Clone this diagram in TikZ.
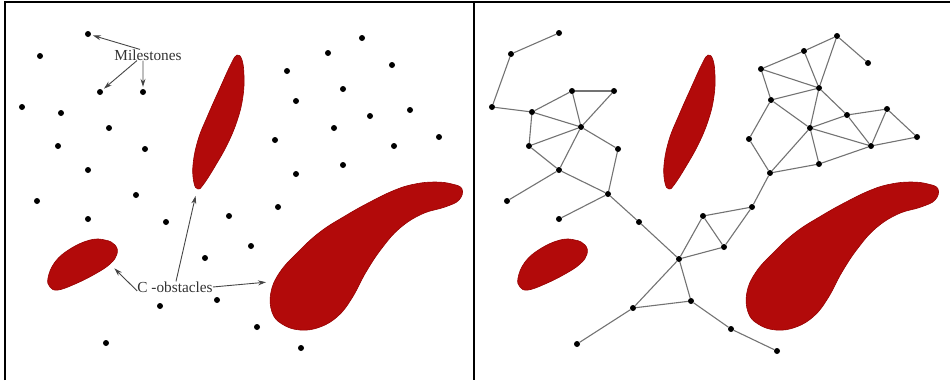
\documentclass[tikz,border=0pt]{standalone}
\usepackage{fontspec}
\setmainfont{Liberation Serif}
\usetikzlibrary{arrows.meta,calc}
\definecolor{obst}{RGB}{178,10,10}
\definecolor{obstedge}{RGB}{150,0,0}
\definecolor{edgegray}{RGB}{115,115,115}
\definecolor{annotgray}{RGB}{70,70,70}
\definecolor{txtgray}{RGB}{50,50,50}
\tikzset{
  mile/.style={circle,fill=black,draw=none,inner sep=0pt,minimum size=6bp},
  rmedge/.style={draw=edgegray,line width=1.1bp},
  obstacle/.style={fill=obst,draw=obstedge,line width=0.6bp},
  annot/.style={draw=annotgray,line width=0.9bp,-{Stealth[length=8bp,width=5bp,fill=black]},shorten >=2bp},
  lbl/.style={text=txtgray,font=\fontsize{15.3bp}{18bp}\selectfont,inner sep=0pt},
  frame/.style={draw=black,line width=2bp}
}
\begin{document}
\begin{tikzpicture}[x=1bp,y=-1bp]
\useasboundingbox (0,0) rectangle (950,380);
% frame
\draw[frame] (5,380) -- (5,2) -- (950,2);
\draw[frame] (474,2) -- (474,380);

% ---------- obstacles, left panel ----------
\draw[obstacle] plot[smooth cycle,tension=0.7] coordinates {
 (462,189) (452,184) (435,182) (415,184) (395,190) (370,202) (345,216) (320,232)
 (298,252) (280,272) (271,292) (272,312) (282,324) (300,330) (320,327) (338,316)
 (352,298) (366,272) (382,248) (400,228) (422,214) (445,207) (459,200)};
\draw[obstacle] plot[smooth cycle,tension=0.7] coordinates {
 (237,55) (242,60) (244,76) (243,96) (238,118) (228,143) (214,168) (203,185)
 (198,189) (194,183) (193,165) (198,140) (208,115) (220,88) (231,64)};
\draw[obstacle] plot[smooth cycle,tension=0.7] coordinates {
 (48,278) (55,262) (70,249) (90,240) (105,240) (115,245) (117,254) (110,264)
 (95,274) (75,284) (58,290) (50,287)};

% ---------- obstacles, right panel ----------
\begin{scope}[xshift=476bp]
\draw[obstacle] plot[smooth cycle,tension=0.7] coordinates {
 (462,189) (452,184) (435,182) (415,184) (395,190) (370,202) (345,216) (320,232)
 (298,252) (280,272) (271,292) (272,312) (282,324) (300,330) (320,327) (338,316)
 (352,298) (366,272) (382,248) (400,228) (422,214) (445,207) (459,200)};
\end{scope}
\begin{scope}[xshift=471bp]
\draw[obstacle] plot[smooth cycle,tension=0.7] coordinates {
 (237,55) (242,60) (244,76) (243,96) (238,118) (228,143) (214,168) (203,185)
 (198,189) (194,183) (193,165) (198,140) (208,115) (220,88) (231,64)};
\end{scope}
\begin{scope}[xshift=470bp]
\draw[obstacle] plot[smooth cycle,tension=0.7] coordinates {
 (48,278) (55,262) (70,249) (90,240) (105,240) (115,245) (117,254) (110,264)
 (95,274) (75,284) (58,290) (50,287)};
\end{scope}

% ---------- left panel milestones ----------
\foreach \n/\x/\y in {l1/88/34, l2/40/56, l3/100/92, l4/143/92, l5/22/107, l6/61/113,
  l7/109/128, l8/58/146, l9/145/149, l10/88/170, l11/362/38, l12/328/53, l13/392/65,
  l14/287/71, l15/343/89, l16/296/101, l17/410/110, l18/370/116, l19/334/128,
  l20/275/140, l21/439/137, l22/394/146, l23/343/165, l24/296/174, l25/37/201,
  l26/136/195, l27/88/219, l28/166/222, l29/229/216, l30/205/258, l31/217/300,
  l32/160/306, l33/106/343, l34/278/207, l35/251/246, l36/257/327, l37/301/348}
  \node[mile] (\n) at (\x,\y) {};

% labels and arrows
\node[lbl] (ms) at (148,55) {Milestones};
\draw[annot] ([xshift=-8bp]ms.north) -- (l1);
\draw[annot] ([xshift=-11bp]ms.south) -- (l3);
\draw[annot] ([xshift=-5bp]ms.south) -- (l4);

\node[lbl] (co) at (175,287) {C -obstacles};
\coordinate (obsA) at (113,267);
\coordinate (obsB) at (196,194);
\coordinate (obsC) at (268,282);
\draw[annot] ([yshift=-4bp]co.west) -- (obsA);
\draw[annot] ([xshift=1bp]co.north) -- (obsB);
\draw[annot] (co.east) -- (obsC);

% ---------- right panel roadmap ----------
\foreach \n/\x/\y in {a1/559/33, a2/511/54, a3/492/107, a4/572/91, a5/614/91, a6/532/112,
  a7/581/127, a8/529/146, a9/618/149, a10/559/170,
  b1/507/201, b2/608/194, b3/559/219, b4/639/222, b5/703/216, b6/679/259, b7/691/301,
  b8/633/308, b9/577/344,
  c1/752/207, c2/724/247, c3/731/329, c4/777/351,
  nA/837/36, nB/804/51, nC/868/63, nD/761/69, nE/819/88, nF/771/100, nG/847/115,
  nH/887/109, nI/810/128, nJ/749/139, nK/917/137, nL/871/146, nM/819/164, nN/770/173}
  \node[mile] (\n) at (\x,\y) {};

\foreach \u/\v in {a1/a2, a2/a3, a3/a6, a6/a4, a4/a5, a4/a7, a5/a7, a6/a7, a6/a8, a8/a7,
  a7/a9, a7/a10, a8/a10, a9/b2, a10/b1, a10/b2, b3/b2, b2/b4, b4/b6, b6/b5, b6/c2,
  b6/b8, b6/b7, b8/b7, b8/b9, b7/c3, c3/c4, b5/c1, b5/c2, c2/c1, c1/nN,
  nA/nB, nA/nC, nA/nE, nB/nD, nB/nE, nD/nE, nD/nF, nF/nE, nE/nG, nE/nI, nF/nI, nF/nJ,
  nG/nH, nG/nL, nH/nL, nH/nK, nL/nK, nI/nG, nI/nL, nI/nM, nI/nN, nM/nN, nM/nL, nJ/nN}
  \draw[rmedge] (\u) -- (\v);
\end{tikzpicture}
\end{document}
